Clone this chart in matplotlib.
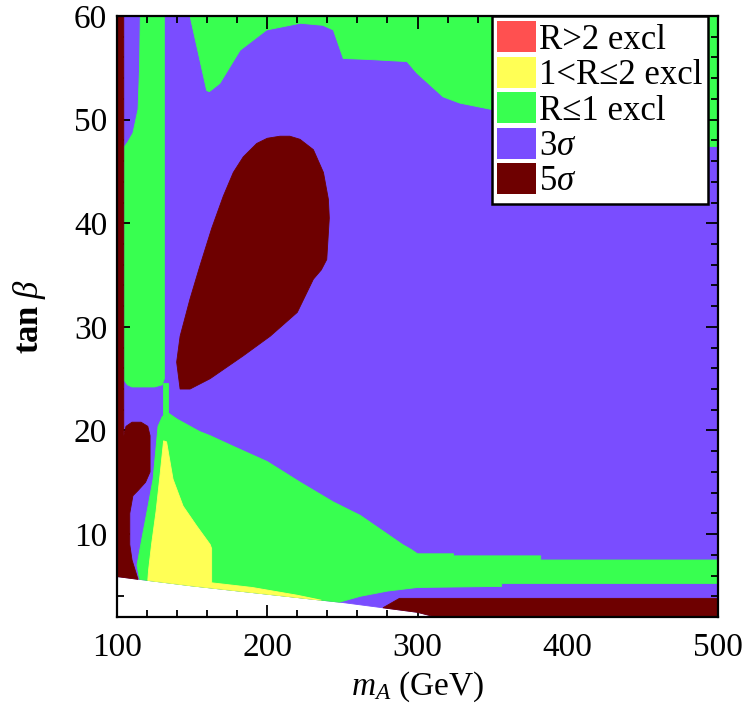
import matplotlib
matplotlib.use("Agg")
import matplotlib.pyplot as plt
from matplotlib.patches import Patch
from matplotlib.ticker import MultipleLocator

plt.rcParams['font.family'] = ['Liberation Serif', 'DejaVu Serif']
plt.rcParams['mathtext.fontset'] = 'custom'
plt.rcParams['mathtext.rm'] = 'Liberation Serif'
plt.rcParams['mathtext.it'] = 'Liberation Serif:italic'
plt.rcParams['mathtext.bf'] = 'Liberation Serif:bold'

# ---- data (mA in GeV, tan beta) ----
boundary_mA = [100, 150, 200, 250, 300, 312]
boundary_tanb = [5.9, 5.0, 4.2, 3.4, 2.45, 2.0]

sigma3_mA = boundary_mA + [500, 500, 100]
sigma3_tanb = boundary_tanb + [2.0, 60, 60]

green_column_mA = [105, 107, 110, 125, 130, 131.5, 131.5, 115.5, 115, 114, 110.6, 107, 105]
green_column_tanb = [24.8, 24.4, 24.2, 24.2, 24.4, 25, 60, 60, 55, 51, 48.7, 47.8, 47.4]

green_link_mA = [130.6, 134, 134, 130.6]
green_link_tanb = [24.6, 24.6, 21.2, 21.2]

green_top_mA = [148.6, 159.7, 161.5, 168.5, 182, 199.6, 222, 237, 244, 250.6, 268,
                293, 299.5, 317, 328, 400, 490, 493, 500, 500]
green_top_tanb = [60, 52.8, 52.7, 53.5, 56.7, 58.65, 59.3, 59.1, 58.65, 55.9, 55.8,
                  55.6, 54.5, 52.2, 51.6, 49.5, 48.0, 47.4, 47.4, 60]

green_low_mA = [127.3, 130, 133, 140, 155, 162, 177, 200, 222, 244, 262, 280, 290, 296,
                300, 324, 324, 382, 382, 500, 500, 356, 356, 300, 280, 262, 248,
                200, 150, 115, 113.3, 116.6, 120, 124]
green_low_tanb = [20.4, 21.3, 21.8, 21.1, 19.9, 19.5, 18.5, 17.0, 15.0, 13.1, 11.8, 10.0,
                  9.0, 8.5, 8.1, 8.1, 7.9, 7.9, 7.5, 7.5, 5.24, 5.24, 4.95, 4.85, 4.5,
                  4.0, 3.43, 4.2, 5.0, 5.63, 7.0, 9.6, 12.2, 15.3]

yellow_mA = [131, 133, 137.3, 144, 153, 162, 163, 163, 190, 220, 236, 200, 150, 120.5,
             121, 123, 126, 128.5]
yellow_tanb = [19.0, 18.9, 15.3, 12.7, 10.8, 9.0, 8.6, 5.3, 4.85, 4.1, 3.62, 4.2, 5.0,
               5.53, 6.5, 9.0, 12.2, 15.5]

sigma5_blob_mA = [193, 200, 208.5, 215, 221.8, 230.7, 237.4, 240.7, 241.3, 240.7, 239.6,
                  236, 230.7, 220, 202, 184, 162, 148.6, 142, 139.7, 142, 148.6, 155,
                  163, 170.7, 177.4, 184]
sigma5_blob_tanb = [47.7, 48.2, 48.4, 48.4, 48.1, 47.1, 44.9, 42.3, 40.5, 39.1, 36.5,
                    35.5, 34.6, 31.4, 29.1, 27.2, 25.0, 24.0, 24.0, 26.6, 29.1, 32.7,
                    35.8, 39.5, 42.6, 44.9, 46.4]

sigma5_left_mA = [100, 114, 110, 108.5, 108.5, 110.6, 114, 119, 122, 122, 120.5, 116,
                  110, 106, 104.5, 104.5, 100]
sigma5_left_tanb = [5.9, 5.63, 7.5, 9.0, 12.0, 13.7, 14.2, 15.0, 16.0, 19.5, 20.4, 20.8,
                    20.8, 20.4, 19.5, 60, 60]

sigma5_band_mA = [277, 288, 500, 500, 312, 300]
sigma5_band_tanb = [2.89, 3.8, 3.8, 2.0, 2.0, 2.45]

legend_labels = ['R>2 excl', '1<R≤2 excl', 'R≤1 excl', r'3$\sigma$', r'5$\sigma$']

x_ticks = [100, 200, 300, 400, 500]
y_ticks = [10, 20, 30, 40, 50, 60]

# ---- colours ----
c_red = '#FF5050'
c_yellow = '#FFFF55'
c_green = '#38FF50'
c_purple = '#7A4DFF'
c_dark = '#6E0000'

fig = plt.figure(figsize=(7.49, 7.13), dpi=100)
ax = fig.add_axes([117 / 749, 96 / 713, 601 / 749, 601 / 713])


def region(xs, ys, color, z):
    ax.fill(xs, ys, facecolor=color, edgecolor=color, lw=0.6, zorder=z)


region(sigma3_mA, sigma3_tanb, c_purple, 1)
region(green_column_mA, green_column_tanb, c_green, 2)
region(green_link_mA, green_link_tanb, c_green, 2)
region(green_top_mA, green_top_tanb, c_green, 2)
region(green_low_mA, green_low_tanb, c_green, 2)
region(yellow_mA, yellow_tanb, c_yellow, 3)
region(sigma5_blob_mA, sigma5_blob_tanb, c_dark, 4)
region(sigma5_left_mA, sigma5_left_tanb, c_dark, 4)
region(sigma5_band_mA, sigma5_band_tanb, c_dark, 4)

ax.set_xlim(100, 500)
ax.set_ylim(2, 60)
ax.set_xticks(x_ticks)
ax.set_yticks(y_ticks)
ax.xaxis.set_minor_locator(MultipleLocator(20))
ax.yaxis.set_minor_locator(MultipleLocator(2))
ax.tick_params(which='both', direction='in', top=True, right=True, width=1.3,
               labelsize=24, zorder=10)
ax.tick_params(which='major', length=9)
ax.tick_params(which='minor', length=5)
ax.tick_params(axis='x', pad=11)
ax.tick_params(axis='y', pad=7)
for s in ax.spines.values():
    s.set_linewidth(1.6)
    s.set_zorder(10)
ax.set_axisbelow(False)

ax.set_xlabel(r'$m_A$ (GeV)', fontsize=24)
ax.set_ylabel(r'$\mathbf{tan}\;\beta$', fontsize=25)
ax.xaxis.set_label_coords(0.5, -0.088)
ax.yaxis.set_label_coords(-0.115, 0.5)

handles = [Patch(facecolor=c, edgecolor='none') for c in
           [c_red, c_yellow, c_green, c_purple, c_dark]]
leg = ax.legend(handles, legend_labels, loc='upper right',
                bbox_to_anchor=(0.983, 1.0), borderaxespad=0.0,
                fontsize=25, handlelength=1.1, handleheight=1.0,
                handletextpad=0.1, labelspacing=0.0, borderpad=0.15,
                fancybox=False, framealpha=1.0, edgecolor='black')
leg.get_frame().set_linewidth(1.8)
leg.set_zorder(20)

fig.savefig('out.png', dpi=100)
